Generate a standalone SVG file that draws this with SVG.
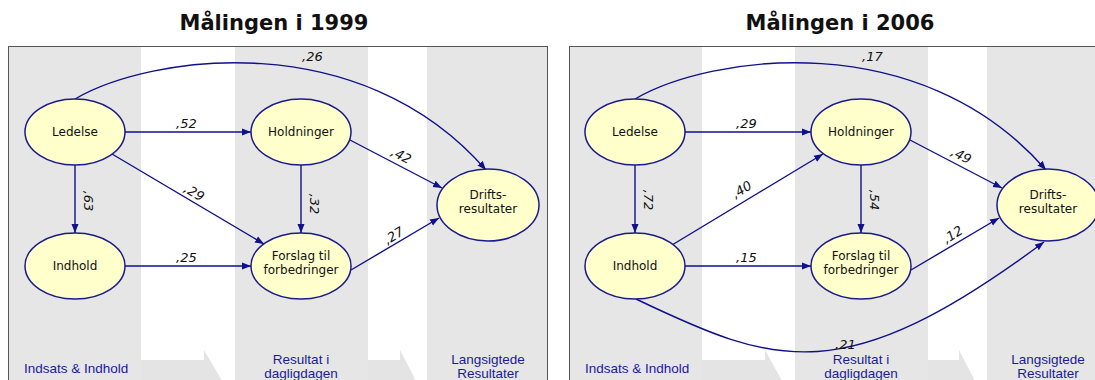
<svg xmlns="http://www.w3.org/2000/svg" width="1095" height="380" viewBox="0 0 1095 380">
<style>
.col{fill:#e6e6e6}
.frame{fill:none;stroke:#555;stroke-width:1}
.title{font-family:"DejaVu Sans",Verdana,sans-serif;font-weight:bold;font-size:21px;fill:#111;text-anchor:middle}
.node ellipse{fill:#ffffcc;stroke:#1a1a8c;stroke-width:1.5}
.node text{font-family:"DejaVu Sans",Verdana,sans-serif;font-size:12px;fill:#111;text-anchor:middle}
.edge{fill:none;stroke:#10108a;stroke-width:1.4;marker-end:url(#ah)}
.lbl{font-family:"DejaVu Sans",Verdana,sans-serif;font-style:italic;font-size:13px;fill:#111}
.lblc{font-family:"DejaVu Sans",Verdana,sans-serif;font-style:italic;font-size:13px;fill:#111;text-anchor:middle}
.cap{font-family:"Liberation Sans",Arial,sans-serif;font-size:13.5px;fill:#1a1a9a}
.capc{font-family:"Liberation Sans",Arial,sans-serif;font-size:13.5px;fill:#1a1a9a;text-anchor:middle}
.garrow{fill:#e4e4e4}
</style>
<defs>
<marker id="ah" markerWidth="10" markerHeight="8" refX="9" refY="4" orient="auto" markerUnits="userSpaceOnUse">
<path d="M0,0.5 L9,4 L0,7.5 z" fill="#10108a"/>
</marker>
</defs>
<rect width="1095" height="380" fill="#fff"/>
<text class="title" x="274" y="30">Målingen i 1999</text>
<text class="title" x="840" y="30">Målingen i 2006</text>

<g id="panel-1999">
<rect class="col" x="8" y="46" width="133" height="340"/>
<rect class="col" x="235" y="46" width="133" height="340"/>
<rect class="col" x="427" y="46" width="120" height="340"/>
<path class="garrow" d="M141,360 H204 V350 L221,379 L204,408 V398 H141 z"/>
<path class="garrow" d="M368,360 H400 V350 L415,379 L400,408 V398 H368 z"/>
<rect class="frame" x="8.5" y="46.5" width="539" height="340"/>
<text class="cap" x="24" y="373">Indsats &amp; Indhold</text>
<text class="capc" x="301" y="364">Resultat i</text>
<text class="capc" x="301" y="378">dagligdagen</text>
<text class="capc" x="488" y="364">Langsigtede</text>
<text class="capc" x="488" y="378">Resultater</text>
<g id="edges-1999">
<path class="edge" d="M125,132 H251"/>
<path class="edge" d="M75,165 V233"/>
<path class="edge" d="M301,165 V233"/>
<path class="edge" d="M125,266 H251"/>
<path class="edge" d="M112,154 L264,244"/>
<path class="edge" d="M350,140 L442,188"/>
<path class="edge" d="M351,270 L439,218"/>
<path class="edge" d="M75,99 C150,55 360,25 486,170"/>
<text class="lbl" x="302" y="61">,26</text>
<text class="lbl" x="176" y="127.5">,52</text>
<text class="lbl" x="176" y="261.5">,25</text>
<text class="lblc" transform="translate(194,193) rotate(31)" y="4">,29</text>
<text class="lblc" transform="translate(401,156) rotate(27)" y="4">,42</text>
<text class="lblc" transform="translate(394,236) rotate(-31)" y="4">,27</text>
<text class="lblc" transform="translate(83,201) rotate(90)" y="-1">,63</text>
<text class="lblc" transform="translate(309,204) rotate(90)" y="-1">,32</text>
</g>
<g id="n1-ledelse" class="node"><ellipse cx="75" cy="132" rx="50" ry="33"/><text x="75" y="136">Ledelse</text></g>
<g id="n1-holdninger" class="node"><ellipse cx="301" cy="132" rx="50" ry="33"/><text x="301" y="136">Holdninger</text></g>
<g id="n1-indhold" class="node"><ellipse cx="75" cy="266" rx="50" ry="33"/><text x="75" y="270">Indhold</text></g>
<g id="n1-forslag" class="node"><ellipse cx="301" cy="266" rx="50" ry="33"/><text x="301" y="260">Forslag til</text><text x="301" y="274">forbedringer</text></g>
<g id="n1-drifts" class="node"><ellipse cx="488" cy="205" rx="51" ry="36"/><text x="488" y="199">Drifts-</text><text x="488" y="213">resultater</text></g>
</g>

<g id="panel-2006" transform="translate(560,0)">
<rect class="col" x="9" y="46" width="133" height="340"/>
<rect class="col" x="235" y="46" width="133" height="340"/>
<rect class="col" x="427" y="46" width="130" height="340"/>
<path class="garrow" d="M142,360 H205 V350 L221,379 L205,408 V398 H142 z"/>
<path class="garrow" d="M368,360 H399 V350 L414,379 L399,408 V398 H368 z"/>
<rect class="frame" x="9.5" y="46.5" width="540" height="340"/>
<text class="cap" x="25" y="373">Indsats &amp; Indhold</text>
<text class="capc" x="301" y="364">Resultat i</text>
<text class="capc" x="301" y="378">dagligdagen</text>
<text class="capc" x="488" y="364">Langsigtede</text>
<text class="capc" x="488" y="378">Resultater</text>
<g id="edges-2006">
<path class="edge" d="M125,132 H251"/>
<path class="edge" d="M75,165 V233"/>
<path class="edge" d="M301,165 V233"/>
<path class="edge" d="M125,266 H251"/>
<path class="edge" d="M112,245 L263,154"/>
<path class="edge" d="M350,140 L442,188"/>
<path class="edge" d="M351,270 L439,218"/>
<path class="edge" d="M75,99 C150,55 360,25 486,170"/>
<path class="edge" d="M76,299 C216,366 284,391 484,242"/>
<text class="lbl" x="302" y="61">,17</text>
<text class="lbl" x="176" y="127.5">,29</text>
<text class="lbl" x="176" y="261.5">,15</text>
<text class="lbl" x="275" y="349">,21</text>
<text class="lblc" transform="translate(182,190) rotate(-31)" y="4">,40</text>
<text class="lblc" transform="translate(401,156) rotate(27)" y="4">,49</text>
<text class="lblc" transform="translate(393,235) rotate(-31)" y="4">,12</text>
<text class="lblc" transform="translate(83,200) rotate(90)" y="-1">,72</text>
<text class="lblc" transform="translate(309,200) rotate(90)" y="-1">,54</text>
</g>
<g id="n2-ledelse" class="node"><ellipse cx="75" cy="132" rx="50" ry="33"/><text x="75" y="136">Ledelse</text></g>
<g id="n2-holdninger" class="node"><ellipse cx="301" cy="132" rx="50" ry="33"/><text x="301" y="136">Holdninger</text></g>
<g id="n2-indhold" class="node"><ellipse cx="75" cy="266" rx="50" ry="33"/><text x="75" y="270">Indhold</text></g>
<g id="n2-forslag" class="node"><ellipse cx="301" cy="266" rx="50" ry="33"/><text x="301" y="260">Forslag til</text><text x="301" y="274">forbedringer</text></g>
<g id="n2-drifts" class="node"><ellipse cx="488" cy="205" rx="51" ry="36"/><text x="488" y="199">Drifts-</text><text x="488" y="213">resultater</text></g>
</g>
</svg>
